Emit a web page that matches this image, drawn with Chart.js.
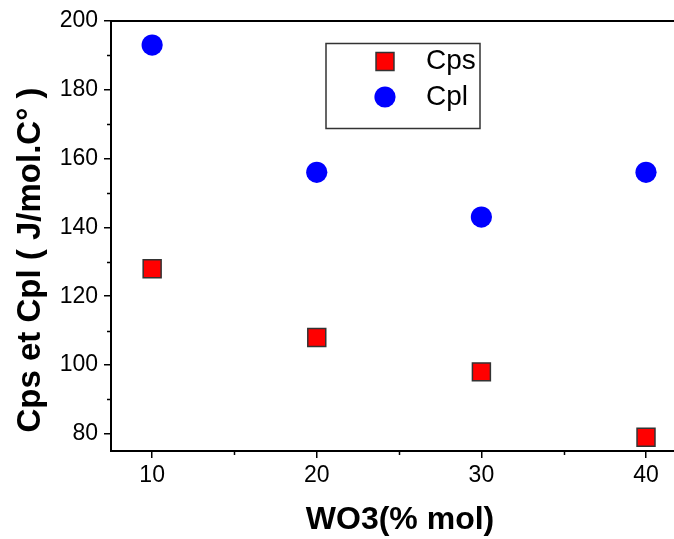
<!DOCTYPE html>
<html>
<head>
<meta charset="utf-8">
<script src="https://cdn.jsdelivr.net/npm/chart.js@4.4.0/dist/chart.umd.min.js"></script>
<style>
  html, body { margin: 0; padding: 0; background: #fff; }
  #wrap { width: 674px; height: 539px; }
</style>
</head>
<body>
<div id="wrap"><canvas id="heatChart"></canvas></div>
<script>
// WO3 content (% mol)
var wo3 = [10, 20, 30, 40];
var cps = [128, 108, 98, 79];
var cpl = [193, 156, 143, 156];

var xTicks = [10, 20, 30, 40];
var xMinor = [15, 25, 35];
var yTicks = [80, 100, 120, 140, 160, 180, 200];
var yMinor = [90, 110, 130, 150, 170, 190];

var xTitle = 'WO3(% mol)';
var yTitle = 'Cps et Cpl ( J/mol.C° )';

var FONT = "'Liberation Sans', Arial, sans-serif";

function toPoints(xs, ys) {
	return xs.map(function (x, i) { return { x: x, y: ys[i] }; });
}

/*  frame: top line, minor ticks, axis titles and legend box  */
var framePlugin = {
	id: 'frame',
	afterDraw: function (chart) {
		var ctx = chart.ctx;
		var a = chart.chartArea;
		var xs = chart.scales.x, ys = chart.scales.y;
		ctx.save();
		ctx.strokeStyle = '#000';
		ctx.lineWidth = 2;
		ctx.beginPath();
		ctx.moveTo(a.left, a.top);
		ctx.lineTo(chart.width, a.top);
		ctx.stroke();

		ctx.lineWidth = 1.5;
		ctx.beginPath();
		xMinor.forEach(function (v) {
			var px = Math.round(xs.getPixelForValue(v)) + 0.5;
			ctx.moveTo(px, a.bottom);
			ctx.lineTo(px, a.bottom + 4);
		});
		yMinor.forEach(function (v) {
			var py = Math.round(ys.getPixelForValue(v)) + 0.5;
			ctx.moveTo(a.left, py);
			ctx.lineTo(a.left - 4, py);
		});
		ctx.stroke();

		// axis titles
		ctx.fillStyle = '#000';
		ctx.textAlign = 'center';
		ctx.textBaseline = 'middle';
		ctx.font = 'bold 32px ' + FONT;
		ctx.fillText(xTitle, 400, 520);
		ctx.save();
		ctx.translate(31, 260);
		ctx.rotate(-Math.PI / 2);
		ctx.font = 'bold 33px ' + FONT;
		ctx.fillText(yTitle, 0, 0);
		ctx.restore();

		// legend
		ctx.lineWidth = 1.5;
		ctx.strokeStyle = '#333';
		ctx.strokeRect(326, 43.5, 154, 85);
		var rows = [
			{ label: 'Cps', y: 61.5, ds: chart.data.datasets[0] },
			{ label: 'Cpl', y: 97, ds: chart.data.datasets[1] }
		];
		rows.forEach(function (r) {
			ctx.fillStyle = r.ds.backgroundColor;
			ctx.strokeStyle = r.ds.borderColor;
			ctx.lineWidth = r.ds.borderWidth;
			Chart.helpers.drawPoint(ctx, {
				pointStyle: r.ds.pointStyle,
				radius: r.ds.pointRadius,
				borderWidth: r.ds.borderWidth
			}, 385, r.y);
			ctx.fillStyle = '#000';
			ctx.font = '28px ' + FONT;
			ctx.textAlign = 'left';
			ctx.textBaseline = 'middle';
			ctx.fillText(r.label, 426, r.y);
		});
		ctx.restore();
	}
};

var ctx1 = document.getElementById('heatChart');
var heatChart = new Chart(ctx1, {
	type: 'scatter',
	data: {
		datasets: [{
			label: 'Cps',
			data: toPoints(wo3, cps),
			pointStyle: 'rect',
			pointRadius: 12.7,
			backgroundColor: '#FF0000',
			borderColor: '#333333',
			borderWidth: 1.5
		}, {
			label: 'Cpl',
			data: toPoints(wo3, cpl),
			pointStyle: 'circle',
			pointRadius: 10.6,
			backgroundColor: '#0000FF',
			borderColor: '#0000FF',
			borderWidth: 0
		}]
	},
	options: {
		responsive: true,
		maintainAspectRatio: false,
		animation: false,
		layout: { autoPadding: false, padding: { left: 0, top: 21, right: 0, bottom: 0 } },
		plugins: {
			legend: { display: false },
			tooltip: { enabled: false }
		},
		scales: {
			x: {
				type: 'linear',
				min: 7.5,
				max: 41.7,
				afterBuildTicks: function (s) { s.ticks = xTicks.map(function (v) { return { value: v }; }); },
				afterFit: function (s) { s.height = 88; s.paddingRight = 0; s.paddingLeft = 0; },
				grid: { drawOnChartArea: false, drawTicks: true, tickLength: 7, color: '#000', lineWidth: 1.5 },
				border: { display: true, color: '#000', width: 2 },
				ticks: { color: '#000', padding: 4, maxRotation: 0, font: { family: FONT, size: 23 } },
				title: { display: false }
			},
			y: {
				type: 'linear',
				min: 75,
				max: 200,
				afterBuildTicks: function (s) { s.ticks = yTicks.map(function (v) { return { value: v }; }); },
				afterFit: function (s) { s.width = 111; },
				grid: { drawOnChartArea: false, drawTicks: true, tickLength: 7, color: '#000', lineWidth: 1.5 },
				border: { display: true, color: '#000', width: 2 },
				ticks: { color: '#000', padding: 6, font: { family: FONT, size: 23 } },
				title: { display: false }
			}
		}
	},
	plugins: [framePlugin]
});
</script>
</body>
</html>
